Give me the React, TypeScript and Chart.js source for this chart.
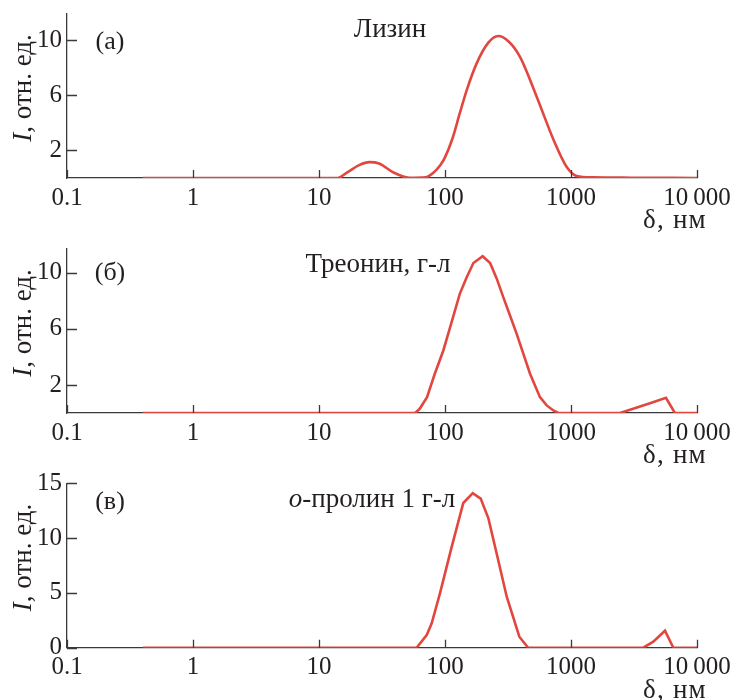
import React, { useEffect, useRef } from "react";
import { Chart, registerables } from "chart.js";

Chart.register(...registerables);

// ---------- data ----------
const xTickValues = [0.1, 1, 10, 100, 1000, 10000];
const xTickLabels = ["0.1", "1", "10", "100", "1000", "10\u2009000"];

const yTicksAB = [2, 6, 10];
const yTicksC = [0, 5, 10, 15];

// (а) Лизин
const lysineD = [0.4, 1, 5, 14, 17, 21, 25, 30, 39, 52, 70, 80, 92, 100, 115, 131, 149, 178, 220, 265, 320, 393, 534, 725, 925, 1110, 1500, 3000, 10000];
const lysineI = [0, 0, 0, 0, 0.45, 0.95, 1.15, 1.05, 0.4, 0.02, 0.05, 0.35, 0.95, 1.5, 2.9, 4.7, 6.4, 8.3, 9.8, 10.3, 9.9, 8.8, 5.9, 2.8, 0.8, 0.15, 0.05, 0.02, 0];

// (б) Треонин, г-л
const threonineD = [0.4, 58, 63, 72, 83, 97, 113, 131, 149, 168, 199, 228, 257, 290, 328, 370, 473, 567, 641, 725, 794, 2450, 4236, 5670, 6680, 10000];
const threonineI = [0, 0, 0.3, 1.13, 2.8, 4.46, 6.5, 8.5, 9.7, 10.7, 11.18, 10.7, 9.6, 8.27, 6.96, 5.66, 2.8, 1.13, 0.54, 0.18, 0, 0, 0.7, 1.08, 0, 0];

// (в) о-пролин 1 г-л
const prolineD = [0.4, 59.5, 71.6, 78.3, 91.2, 113, 139.7, 166, 192, 221, 257, 309, 389, 457, 3750, 4500, 5570, 6490, 10000];
const prolineI = [0, 0, 1.16, 2.2, 4.96, 9.2, 13.2, 14.1, 13.6, 11.8, 8.6, 4.65, 1.0, 0, 0, 0.55, 1.55, 0, 0];

// ---------- styles ----------
const SERIF = '"Liberation Serif", "Times New Roman", serif';
const TEXT = "#231f20";
const AXIS = "#3a3a3a";
const RED = "#e2473f";

type Part = { text: string; italic?: boolean };

type PanelProps = {
  top: number;
  height: number;
  padTop: number;
  xs: number[];
  ys: number[];
  yMax: number;
  yTicks: number[];
  smooth: boolean;
  letter: string;
  letterY: number;
  title: Part[];
  titleX: number;
  titleY: number;
};

function drawParts(ctx: CanvasRenderingContext2D, parts: Part[], cx: number, y: number, size: number, spacing = 0) {
  (ctx as any).letterSpacing = `${spacing}px`;
  const widths = parts.map((p) => {
    ctx.font = `${p.italic ? "italic " : ""}${size}px ${SERIF}`;
    return ctx.measureText(p.text).width;
  });
  const total = widths.reduce((a, b) => a + b, 0);
  let x = cx - total / 2;
  parts.forEach((p, i) => {
    ctx.font = `${p.italic ? "italic " : ""}${size}px ${SERIF}`;
    ctx.fillText(p.text, x, y);
    x += widths[i];
  });
  (ctx as any).letterSpacing = "0px";
}

function Panel(props: PanelProps) {
  const ref = useRef<HTMLCanvasElement | null>(null);
  useEffect(() => {
    const canvas = ref.current;
    if (!canvas) return;
    const p = props;
    const decor = {
      id: "decor",
      afterDraw(chart: any) {
        const ctx: CanvasRenderingContext2D = chart.ctx;
        const xs = chart.scales.x;
        const ys = chart.scales.y;
        const area = chart.chartArea;
        ctx.save();
        ctx.strokeStyle = AXIS;
        ctx.lineWidth = 1.3;
        ctx.beginPath();
        for (const t of xs.ticks) {
          const px = Math.round(xs.getPixelForValue(t.value)) + 0.5;
          ctx.moveTo(px, area.bottom);
          ctx.lineTo(px, area.bottom - 8);
        }
        for (const t of ys.ticks) {
          const py = Math.round(ys.getPixelForValue(t.value)) + 0.5;
          ctx.moveTo(area.left, py);
          ctx.lineTo(area.left + 10, py);
        }
        ctx.stroke();

        ctx.fillStyle = TEXT;
        ctx.textAlign = "left";
        // panel letter
        ctx.textBaseline = "middle";
        drawParts(ctx, [{ text: p.letter }], 110, p.letterY, 26);
        ctx.textBaseline = "alphabetic";
        // title
        drawParts(ctx, p.title, p.titleX, p.titleY, 27);
        // x-axis title
        drawParts(ctx, [{ text: "δ, нм" }], 675, 228, 27, 1.2);
        // y-axis title (rotated)
        ctx.save();
        ctx.translate(31, (area.top + area.bottom) / 2 - 8);
        ctx.rotate(-Math.PI / 2);
        drawParts(ctx, [{ text: "I", italic: true }, { text: ", отн. ед." }], 0, 0, 27);
        ctx.restore();
        ctx.restore();
      },
    };

    const chart = new Chart(canvas, {
      type: "line",
      data: {
        datasets: [
          {
            data: p.xs.map((x, i) => ({ x, y: p.ys[i] })),
            borderColor: RED,
            borderWidth: 2.6,
            pointRadius: 0,
            fill: false,
            tension: p.smooth ? 0.4 : 0,
            cubicInterpolationMode: p.smooth ? "monotone" : "default",
          } as any,
        ],
      },
      options: {
        animation: false,
        responsive: false,
        maintainAspectRatio: false,
        events: [],
        layout: { padding: { top: p.padTop, right: 34, left: 0, bottom: 0 } },
        plugins: { legend: { display: false }, tooltip: { enabled: false } },
        scales: {
          x: {
            type: "logarithmic",
            min: 0.1,
            max: 10000,
            afterBuildTicks: (scale: any) => {
              scale.ticks = xTickValues.map((v) => ({ value: v }));
            },
            afterFit: (scale: any) => {
              scale.height = p.height - 178 + (p.padTop < 14 ? 0.3 : 0);
              scale.paddingLeft = 0;
              scale.paddingRight = 0;
            },
            ticks: {
              autoSkip: false,
              maxRotation: 0,
              minRotation: 0,
              padding: 5,
              color: TEXT,
              font: { family: SERIF, size: 25 },
              callback: (_v: any, i: number) => xTickLabels[i],
            },
            grid: { display: false, drawTicks: false },
            border: { display: true, color: AXIS, width: 1.3 },
          },
          y: {
            type: "linear",
            min: 0,
            max: p.yMax,
            afterBuildTicks: (scale: any) => {
              scale.ticks = p.yTicks.map((v) => ({ value: v }));
            },
            afterFit: (scale: any) => {
              scale.width = 67;
              scale.paddingTop = 0;
              scale.paddingBottom = 0;
            },
            ticks: {
              padding: 5,
              color: TEXT,
              font: { family: SERIF, size: 25 },
              callback: (v: any) => String(v),
            },
            grid: { display: false, drawTicks: false },
            border: { display: true, color: AXIS, width: 1.3 },
          },
        },
      } as any,
      plugins: [decor],
    });
    return () => chart.destroy();
  }, []);
  return (
    <canvas
      ref={ref}
      width={731}
      height={props.height}
      style={{ position: "absolute", left: 0, top: props.top, width: 731, height: props.height }}
    />
  );
}

export default function App() {
  return (
    <div style={{ position: "absolute", left: 0, top: 0, width: 731, height: 700, background: "#fff", overflow: "hidden" }}>
      <Panel
        top={0}
        height={235}
        padTop={14}
        xs={lysineD}
        ys={lysineI}
        yMax={11.9}
        yTicks={yTicksAB}
        smooth={true}
        letter="(а)"
        letterY={42}
        title={[{ text: "Лизин" }]}
        titleX={390}
        titleY={37}
      />
      <Panel
        top={235}
        height={235}
        padTop={14}
        xs={threonineD}
        ys={threonineI}
        yMax={11.7}
        yTicks={yTicksAB}
        smooth={false}
        letter="(б)"
        letterY={38}
        title={[{ text: "Треонин, г-л" }]}
        titleX={378}
        titleY={37}
      />
      <Panel
        top={470}
        height={230}
        padTop={13.3}
        xs={prolineD}
        ys={prolineI}
        yMax={15}
        yTicks={yTicksC}
        smooth={false}
        letter="(в)"
        letterY={32}
        title={[{ text: "о", italic: true }, { text: "-пролин 1 г-л" }]}
        titleX={372}
        titleY={37}
      />
    </div>
  );
}
